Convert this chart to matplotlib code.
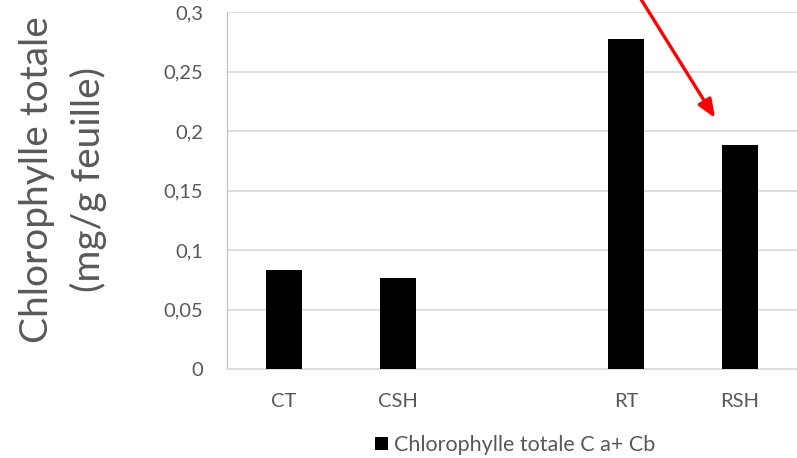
import matplotlib
matplotlib.use("Agg")
import matplotlib.pyplot as plt
import numpy as np

plt.rcParams['font.family'] = ['Lato', 'DejaVu Sans']

# teneur en chlorophylle par traitement (la 3e position reste vide)
categories = ["CT", "CSH", "", "RT", "RSH"]
chlorophylle = [0.0835, 0.0762, np.nan, 0.2776, 0.188]
yticks = [0, 0.05, 0.1, 0.15, 0.2, 0.25, 0.3]
ytick_labels = ["0", "0,05", "0,1", "0,15", "0,2", "0,25", "0,3"]

grey = "#595959"

fig = plt.figure(figsize=(7.97, 4.58), dpi=100)
ax = fig.add_axes([227 / 797, 89 / 458, 570 / 797, 357 / 458])

x = np.arange(len(categories))
ax.bar(x, chlorophylle, width=0.31, color="black",
       label="Chlorophylle totale C a+ Cb", zorder=3)

ax.set_xlim(-0.5, len(categories) - 0.5)
ax.set_ylim(0, 0.3)
ax.set_yticks(yticks)
ax.set_yticklabels(ytick_labels)
ax.set_xticks(x)
ax.set_xticklabels(categories)
ax.tick_params(axis="both", length=0, labelsize=14.5, labelcolor=grey)
ax.tick_params(axis="y", pad=17)
ax.tick_params(axis="x", pad=17)

ax.yaxis.grid(True, color="#d9d9d9", linewidth=1.2, zorder=0)
for s in ["top", "right"]:
    ax.spines[s].set_visible(False)
ax.spines["left"].set_color("#bfbfbf")
ax.spines["bottom"].set_color("#d9d9d9")
ax.spines["bottom"].set_linewidth(1.2)

# titre de l'axe vertical
fig.text(63 / 797, 278 / 458, "Chlorophylle totale\n(mg/g feuille)",
         rotation=90, ha="center", va="center", fontsize=28,
         color=grey, linespacing=1.5, multialignment="center")

ax.legend(loc="center", bbox_to_anchor=(0.506, -0.213), frameon=False,
          fontsize=15.5, labelcolor=grey, handlelength=0.6, handleheight=0.6,
          handletextpad=0.28)

# flèche rouge vers RSH
ax.annotate("", xy=(715, 458 - 118), xycoords="figure pixels",
            xytext=(634, 458 + 12), textcoords="figure pixels",
            arrowprops=dict(arrowstyle="-|>,head_width=0.45,head_length=1.1",
                            color="red", lw=2.4, shrinkA=0, shrinkB=0),
            annotation_clip=False)

fig.savefig("out.png", dpi=100)
